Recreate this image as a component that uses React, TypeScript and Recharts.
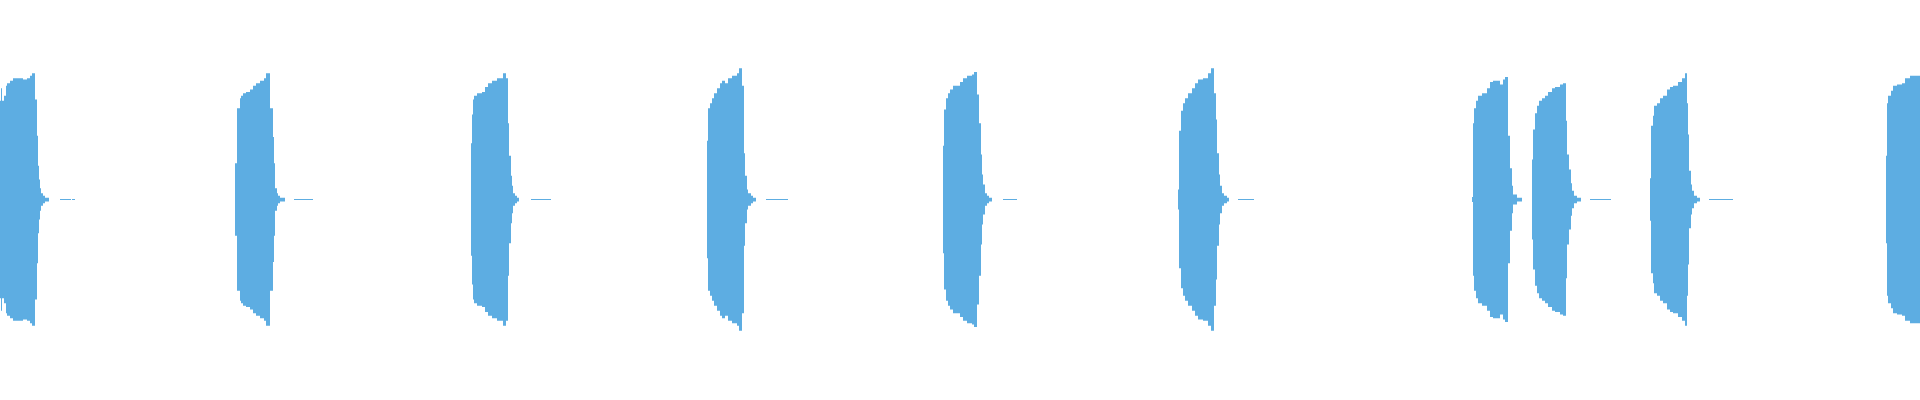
import React from "react"
import { Area, AreaChart, XAxis, YAxis } from "recharts"

// envelope of each beep: [time in ms, peak amplitude]
const beep1 = [
  [0, 0.79], [1, 0.89], [2, 0.79], [4, 0.83], [6, 0.91], [7, 0.93], [10, 0.95],
  [13, 0.97], [20, 0.97], [23, 0.96], [27, 0.97], [30, 0.99], [32, 1.01],
  [35, 0.8], [37, 0.51], [38, 0.27], [39, 0.16], [40, 0.09], [41, 0.05],
  [43, 0.03], [45, 0.015], [49, 0],
  [60, 0.004], [71, 0], [72, 0.004], [75, 0],
]
const beep2 = [
  [235, 0.29], [237, 0.73], [240, 0.81], [241, 0.83], [243, 0.85], [246, 0.86],
  [250, 0.88], [253, 0.91], [256, 0.93], [260, 0.95], [264, 0.97], [266, 1.01],
  [270, 0.73], [273, 0.5], [274, 0.29], [275, 0.09], [277, 0.05], [278, 0.03],
  [280, 0.015], [285, 0],
  [294, 0.004], [313, 0],
]
const beep3 = [
  [471, 0.45], [472, 0.68], [473, 0.8], [474, 0.83], [477, 0.85], [482, 0.86],
  [485, 0.9], [488, 0.93], [492, 0.95], [497, 0.97], [503, 1.01], [506, 0.97],
  [508, 0.61], [509, 0.35], [511, 0.19], [512, 0.11], [513, 0.05], [515, 0.03],
  [517, 0.015], [519, 0],
  [531, 0.004], [551, 0],
]
const beep4 = [
  [707, 0.47], [708, 0.73], [710, 0.77], [712, 0.81], [714, 0.85], [717, 0.89],
  [720, 0.93], [722, 0.95], [725, 0.93], [728, 0.97], [732, 0.99], [737, 1.01],
  [739, 1.05], [742, 0.91], [744, 0.37], [745, 0.19], [747, 0.08], [748, 0.05],
  [751, 0.03], [753, 0.015], [756, 0],
  [766, 0.004], [788, 0],
]
const beep5 = [
  [943, 0.43], [944, 0.72], [946, 0.81], [948, 0.85], [950, 0.88], [953, 0.91],
  [960, 0.94], [963, 0.97], [967, 0.99], [972, 1.0], [974, 1.02], [977, 0.84],
  [979, 0.61], [981, 0.36], [982, 0.2], [983, 0.12], [985, 0.05], [987, 0.03],
  [989, 0.015], [992, 0],
  [1003, 0.004], [1017, 0],
]
const beep6 = [
  [1178, 0.08], [1179, 0.55], [1181, 0.71], [1183, 0.77], [1185, 0.81], [1188, 0.85],
  [1192, 0.89], [1195, 0.93], [1198, 0.96], [1203, 0.97], [1208, 1.01], [1211, 1.05],
  [1214, 0.85], [1216, 0.64], [1217, 0.37], [1219, 0.2], [1220, 0.11], [1222, 0.05],
  [1224, 0.03], [1227, 0.015], [1229, 0],
  [1238, 0.004], [1254, 0],
]
const beep7 = [
  [1472, 0.02], [1473, 0.61], [1474, 0.73], [1476, 0.79], [1478, 0.83], [1482, 0.85],
  [1487, 0.89], [1490, 0.94], [1493, 0.95], [1500, 0.92], [1503, 0.96], [1505, 0.98],
  [1508, 0.51], [1510, 0.25], [1512, 0.11], [1513, 0.04], [1517, 0.015], [1522, 0],
]
const beep8 = [
  [1532, 0.32], [1533, 0.56], [1535, 0.69], [1537, 0.75], [1539, 0.79], [1542, 0.81],
  [1545, 0.83], [1548, 0.86], [1552, 0.89], [1555, 0.9], [1560, 0.92], [1563, 0.93],
  [1566, 0.63], [1567, 0.36], [1569, 0.24], [1571, 0.13], [1572, 0.07], [1574, 0.03],
  [1577, 0.015], [1581, 0],
  [1590, 0.004], [1611, 0],
]
const beep9 = [
  [1650, 0.17], [1651, 0.59], [1653, 0.67], [1654, 0.75], [1657, 0.77], [1660, 0.81],
  [1663, 0.83], [1667, 0.88], [1670, 0.9], [1673, 0.91], [1678, 0.94], [1682, 0.97],
  [1685, 1.01], [1687, 0.77], [1688, 0.52], [1689, 0.23], [1691, 0.12], [1692, 0.07],
  [1694, 0.03], [1697, 0.015], [1700, 0],
  [1709, 0.004], [1733, 0],
]
const beep10 = [
  [1886, 0.35], [1887, 0.77], [1888, 0.83], [1891, 0.87], [1893, 0.91], [1897, 0.92],
  [1902, 0.93], [1905, 0.97], [1910, 0.99], [1920, 0.99],
]

const color = "#5dade2"

const data = [beep1, beep2, beep3, beep4, beep5, beep6, beep7, beep8, beep9, beep10]
  .flat()
  .map(([ms, amp]) => ({ ms, wave: [-amp, amp] }))

export default function App() {
  return (
    <div style={{ position: "absolute", left: 0, top: 0, width: 1920, height: 400, background: "#fff" }}>
      <AreaChart width={1920} height={400} data={data} margin={{ top: 0, right: 0, bottom: 0, left: 0 }}>
        <XAxis dataKey="ms" type="number" domain={[0, 1920]} hide />
        <YAxis type="number" domain={[-1.604, 1.596]} hide />
        <Area
          type="stepAfter"
          dataKey="wave"
          stroke="none"
          fill={color}
          fillOpacity={1}
          dot={false}
          activeDot={false}
          isAnimationActive={false}
        />
      </AreaChart>
    </div>
  )
}
